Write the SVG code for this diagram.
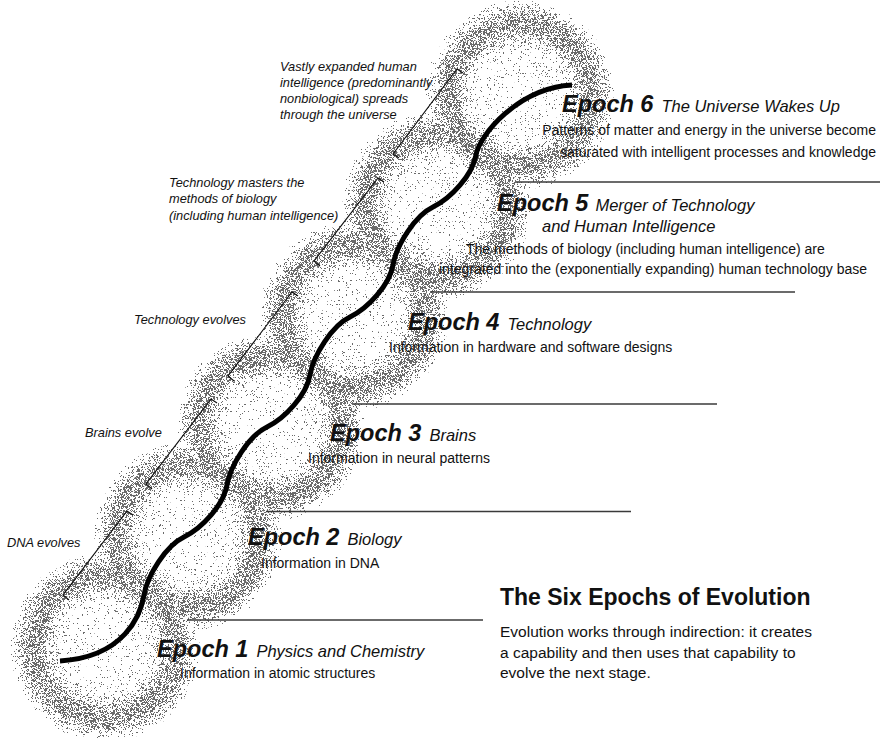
<svg xmlns="http://www.w3.org/2000/svg" width="882" height="738" viewBox="0 0 882 738">
  <defs>
    <style>
      .ep { font-family: "Liberation Sans", Arial, sans-serif; font-weight: bold; font-style: italic; font-size: 23.5px; fill: #111; }
      .sub { font-family: "Liberation Sans", Arial, sans-serif; font-weight: normal; font-style: italic; font-size: 16.5px; fill: #111; }
      .info { font-family: "Liberation Sans", Arial, sans-serif; font-size: 14px; fill: #111; }
      .note { font-family: "Liberation Sans", Arial, sans-serif; font-style: italic; font-size: 12.8px; fill: #111; }
      .title { font-family: "Liberation Sans", Arial, sans-serif; font-weight: bold; font-size: 23px; fill: #111; }
      .desc { font-family: "Liberation Sans", Arial, sans-serif; font-size: 15.5px; fill: #111; }
      .rule { stroke: #3a3a3a; stroke-width: 1.3; fill: none; }
      .bracket { stroke: #111; stroke-width: 1.2; fill: none; stroke-linejoin: miter; }
      .wave { stroke: #000; stroke-width: 5; fill: none; stroke-linecap: butt; }
      .ring { fill: url(#ringShade); mix-blend-mode: darken; }
    </style>
    <!-- tone of one ring (white = empty): faint inside, dense band, fading rim -->
    <radialGradient id="ringShade" cx="0.5" cy="0.5" r="0.5">
      <stop offset="0" stop-color="#f0f0f0"/>
      <stop offset="0.46" stop-color="#ececec"/>
      <stop offset="0.58" stop-color="#bcbcbc"/>
      <stop offset="0.68" stop-color="#7e7e7e"/>
      <stop offset="0.8" stop-color="#7a7a7a"/>
      <stop offset="0.9" stop-color="#b0b0b0"/>
      <stop offset="0.97" stop-color="#eaeaea"/>
      <stop offset="1" stop-color="#fff"/>
    </radialGradient>
    <!-- turns the tone into a halftone of single dots -->
    <filter id="stipple" filterUnits="userSpaceOnUse" x="0" y="0" width="882" height="738" color-interpolation-filters="sRGB">
      <feColorMatrix in="SourceGraphic" type="matrix" values="0 0 0 0 0  0 0 0 0 0  0 0 0 0 0  -1 0 0 0 1" result="tone"/>
      <feTurbulence type="fractalNoise" baseFrequency="2.71" numOctaves="1" seed="11" result="noise"/>
      <feColorMatrix in="noise" type="matrix" values="0 0 0 0 0  0 0 0 0 0  0 0 0 0 0  2.4 0 0 0 -0.7" result="thr"/>
      <feComposite in="tone" in2="thr" operator="arithmetic" k1="0" k2="1" k3="-1" k4="0" result="diff"/>
      <feComponentTransfer in="diff" result="dots">
        <feFuncA type="linear" slope="40" intercept="0"/>
      </feComponentTransfer>
      <feFlood flood-color="#6a6a6a" result="ink"/>
      <feComposite in="ink" in2="dots" operator="in"/>
    </filter>
  </defs>

  <rect x="0" y="0" width="882" height="738" fill="#fff"/>

  <!-- chain of six rings -->
  <g id="rings" filter="url(#stipple)">
    <rect x="0" y="0" width="882" height="738" fill="#fff"/>
    <circle class="ring" cx="105" cy="647" r="95"/>
    <circle class="ring" cx="188" cy="536.6" r="95"/>
    <circle class="ring" cx="271" cy="426.2" r="95"/>
    <circle class="ring" cx="354" cy="315.8" r="95"/>
    <circle class="ring" cx="437" cy="205.4" r="95"/>
    <circle class="ring" cx="520" cy="95" r="95"/>
  </g>

  <!-- separators under each epoch heading -->
  <g id="rules">
    <line class="rule" x1="187" y1="620" x2="483" y2="620"/>
    <line class="rule" x1="266" y1="511.5" x2="631" y2="511.5"/>
    <line class="rule" x1="352" y1="404" x2="717" y2="404"/>
    <line class="rule" x1="430" y1="292" x2="795" y2="292"/>
    <line class="rule" x1="515" y1="182" x2="880" y2="182"/>
  </g>

  <g id="connectors">
    <!-- the rising wave through the epochs -->
    <path id="wave" class="wave" d="M60,661 C125,657 140.6,614.8 144,595 C147.4,575.2 166,545.6 184,537 C202,528.4 223.6,504.8 227,485 C230.4,465.2 249,435.6 267,427 C285,418.4 306.6,394.8 310,375 C313.4,355.2 332,325.6 350,317 C368,308.4 389.6,284.8 393,265 C396.4,245.2 415,215.6 433,207 C451,198.4 472.6,174.8 476,155 C479.4,135.2 518,88 572,85"/>
    <!-- brackets spanning each transition -->
    <polyline id="bracket-dna" class="bracket" points="69,600 63,595 127,511 133,515"/>
    <polyline id="bracket-brains" class="bracket" points="152,489 146,484 211,399 217,403"/>
    <polyline id="bracket-tech" class="bracket" points="234,381 228,376 292,292 298,296"/>
    <polyline id="bracket-masters" class="bracket" points="320,266 314,261 378,178 384,182"/>
    <polyline id="bracket-universe" class="bracket" points="399,158 393,154 457,69 463,73"/>
  </g>

  <g id="note-universe">
    <text class="note" x="280" y="71">Vastly expanded human</text>
    <text class="note" x="280" y="87">intelligence (predominantly</text>
    <text class="note" x="280" y="103">nonbiological) spreads</text>
    <text class="note" x="280" y="119">through the universe</text>
  </g>
  <g id="note-masters">
    <text class="note" x="169" y="187">Technology masters the</text>
    <text class="note" x="169" y="203">methods of biology</text>
    <text class="note" x="169" y="220">(including human intelligence)</text>
  </g>
  <g id="note-tech">
    <text class="note" x="134" y="324">Technology evolves</text>
  </g>
  <g id="note-brains">
    <text class="note" x="85" y="437">Brains evolve</text>
  </g>
  <g id="note-dna">
    <text class="note" x="7" y="547">DNA evolves</text>
  </g>

  <g id="epoch6">
    <text x="562" y="112"><tspan class="ep">Epoch 6</tspan><tspan class="sub" dx="8">The Universe Wakes Up</tspan></text>
    <text class="info" x="876" y="135" text-anchor="end">Patterns of matter and energy in the universe become</text>
    <text class="info" x="876" y="157" text-anchor="end">saturated with intelligent processes and knowledge</text>
  </g>
  <g id="epoch5">
    <text x="497" y="211"><tspan class="ep">Epoch 5</tspan><tspan class="sub" dx="7">Merger of Technology</tspan></text>
    <text class="sub" x="542" y="232">and Human Intelligence</text>
    <text class="info" x="466" y="254">The methods of biology (including human intelligence) are</text>
    <text class="info" x="439" y="274">integrated into the (exponentially expanding) human technology base</text>
  </g>
  <g id="epoch4">
    <text x="408" y="330"><tspan class="ep">Epoch 4</tspan><tspan class="sub" dx="8">Technology</tspan></text>
    <text class="info" x="389" y="352">Information in hardware and software designs</text>
  </g>
  <g id="epoch3">
    <text x="330" y="441"><tspan class="ep">Epoch 3</tspan><tspan class="sub" dx="8">Brains</tspan></text>
    <text class="info" x="308" y="463">Information in neural patterns</text>
  </g>
  <g id="epoch2">
    <text x="248" y="545"><tspan class="ep">Epoch 2</tspan><tspan class="sub" dx="8">Biology</tspan></text>
    <text class="info" x="261" y="568">Information in DNA</text>
  </g>
  <g id="epoch1">
    <text x="157" y="657"><tspan class="ep">Epoch 1</tspan><tspan class="sub" dx="8">Physics and Chemistry</tspan></text>
    <text class="info" x="180" y="678">Information in atomic structures</text>
  </g>

  <g id="title">
    <text class="title" x="500" y="605">The Six Epochs of Evolution</text>
    <text class="desc" x="500" y="637">Evolution works through indirection: it creates</text>
    <text class="desc" x="500" y="658">a capability and then uses that capability to</text>
    <text class="desc" x="500" y="678">evolve the next stage.</text>
  </g>
</svg>
